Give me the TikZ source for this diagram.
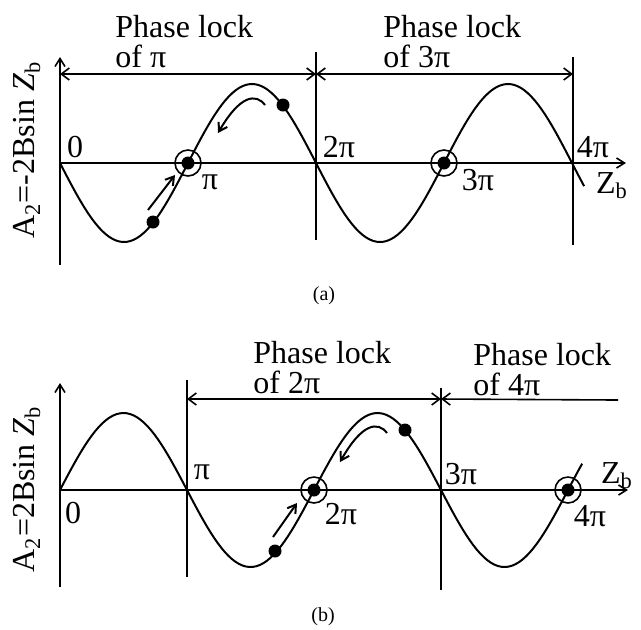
\documentclass[tikz,border=0pt]{standalone}
\usepackage{fontspec}
\setmainfont{Liberation Serif}
\usetikzlibrary{arrows.meta}

\begin{document}
\begin{tikzpicture}[
		x=0.5pt, y=-0.5pt,
		>={Straight Barb[length=4pt, width=6pt]},
		ax/.style = {line width=0.8pt, -{Straight Barb[length=4pt, width=5pt]}},
		vl/.style = {line width=0.8pt},
		dim/.style = {line width=0.8pt},
		crv/.style = {line width=1pt},
		mv/.style = {line width=1pt, -{Straight Barb[length=4pt, width=5pt]}},
		dot/.style = {circle, fill, inner sep=0, minimum size=6.5pt},
		ring/.style = {circle, draw, line width=0.8pt, inner sep=0, minimum size=13pt},
		lbl/.style = {inner sep=0, font=\fontsize{16}{15}\selectfont},
		capt/.style = {inner sep=0, font=\fontsize{10}{12}\selectfont},
		]
		\useasboundingbox (0,0) rectangle (641,629);
		
		% (a)
		\coordinate	(ya0)	at	(60,265);
		\coordinate	(ya1)	at	(60,57);
		\coordinate	(oa)	at	(60,163);
		\coordinate	(xa1)	at	(626,163);
		\coordinate	(va2t)	at	(316,52);
		\coordinate	(va2b)	at	(316,240);
		\coordinate	(va4t)	at	(573,57);
		\coordinate	(va4b)	at	(573,245);
		\coordinate	(da0)	at	(60,74);
		\coordinate	(da2)	at	(316,74);
		\coordinate	(da4)	at	(573,74);
		
		\draw[ax]	(ya0)	--	(ya1);
		\draw[ax]	(oa)	--	(xa1);
		\draw[vl]	(va2t)	--	(va2b);
		\draw[vl]	(va4t)	--	(va4b);
		\draw[dim, <->]	(da0)	--	(da2);
		\draw[dim, <->]	(da2)	--	(da4);
		\draw[crv]	plot[domain=0:737, samples=150] ({60+\x/180*128}, {163+79*sin(\x)});
		
		\node[ring]	(ra1)	at	(188,163)	{};
		\node[ring]	(ra3)	at	(444,163)	{};
		\node[dot]	(pa0)	at	(188,163)	{};
		\node[dot]	(pa3)	at	(444,163)	{};
		\node[dot]	(pa1)	at	(153,222)	{};
		\node[dot]	(pa2)	at	(283,105)	{};
		
		\coordinate	(sa0)	at	(148,210);
		\coordinate	(sa1)	at	(175,175);
		\coordinate	(ca0)	at	(265,105);
		\coordinate	(ca1)	at	(218,133);
		\draw[mv]	(sa0)	--	(sa1);
		\draw[mv]	(ca0)	..	controls (256,93) and (240,95)	..	(ca1);
		
		\node[lbl, align=left, anchor=north west]	(ta1)	at	(115,15)	{Phase lock\\of π};
		\node[lbl, align=left, anchor=north west]	(ta2)	at	(383,15)	{Phase lock\\of 3π};
		\node[lbl]	(na0)	at	(75,147)	{0};
		\node[lbl]	(na1)	at	(210,182)	{π};
		\node[lbl]	(na2)	at	(339,147)	{2π};
		\node[lbl]	(na3)	at	(478,180)	{3π};
		\node[lbl]	(na4)	at	(593,147)	{4π};
		\node[lbl]	(za)	at	(612,186)	{Z\textsubscript{b}};
		\node[lbl, rotate=90]	(ya)	at	(27,150)	{A\textsubscript{2}=-2Bsin \textit{Z}\textsubscript{b}};
		\node[capt]	(capa)	at	(324,296)	{(a)};
		
		% (b)
		\coordinate	(yb0)	at	(60,587);
		\coordinate	(yb1)	at	(60,383);
		\coordinate	(ob)	at	(60,490);
		\coordinate	(xb1)	at	(628,490);
		\coordinate	(vb1t)	at	(187,380);
		\coordinate	(vb1b)	at	(187,577);
		\coordinate	(vb3t)	at	(441,388);
		\coordinate	(vb3b)	at	(441,590);
		\coordinate	(db1)	at	(187,399);
		\coordinate	(db3)	at	(441,399);
		\coordinate	(db5)	at	(618,400);
		
		\draw[ax]	(yb0)	--	(yb1);
		\draw[ax]	(ob)	--	(xb1);
		\draw[vl]	(vb1t)	--	(vb1b);
		\draw[vl]	(vb3t)	--	(vb3b);
		\draw[dim, <->]	(db1)	--	(db3);
		\draw[dim, <-]	(db3)	--	(db5);
		\draw[crv]	plot[domain=0:740, samples=150] ({60+\x/180*127}, {490-77*sin(\x)});
		
		\node[ring]	(rb2)	at	(314,490)	{};
		\node[ring]	(rb4)	at	(568,490)	{};
		\node[dot]	(pb2)	at	(314,490)	{};
		\node[dot]	(pb4)	at	(568,490)	{};
		\node[dot]	(pb1)	at	(275,551)	{};
		\node[dot]	(pb3)	at	(405,430)	{};
		
		\coordinate	(sb0)	at	(273,537);
		\coordinate	(sb1)	at	(297,503);
		\coordinate	(cb0)	at	(387,433);
		\coordinate	(cb1)	at	(340,462);
		\draw[mv]	(sb0)	--	(sb1);
		\draw[mv]	(cb0)	..	controls (378,421) and (362,423)	..	(cb1);
		
		\node[lbl, align=left, anchor=north west]	(tb1)	at	(253,341)	{Phase lock\\of 2π};
		\node[lbl, align=left, anchor=north west]	(tb2)	at	(473,343)	{Phase lock\\of 4π};
		\node[lbl]	(nb0)	at	(73,513)	{0};
		\node[lbl]	(nb1)	at	(202,472)	{π};
		\node[lbl]	(nb2)	at	(341,514)	{2π};
		\node[lbl]	(nb3)	at	(461,474)	{3π};
		\node[lbl]	(nb4)	at	(590,516)	{4π};
		\node[lbl]	(zb)	at	(617,476)	{Z\textsubscript{b}};
		\node[lbl, rotate=90]	(yb)	at	(27,489)	{A\textsubscript{2}=2Bsin \textit{Z}\textsubscript{b}};
		\node[capt]	(capb)	at	(323,617)	{(b)};
	\end{tikzpicture}
\end{document}
